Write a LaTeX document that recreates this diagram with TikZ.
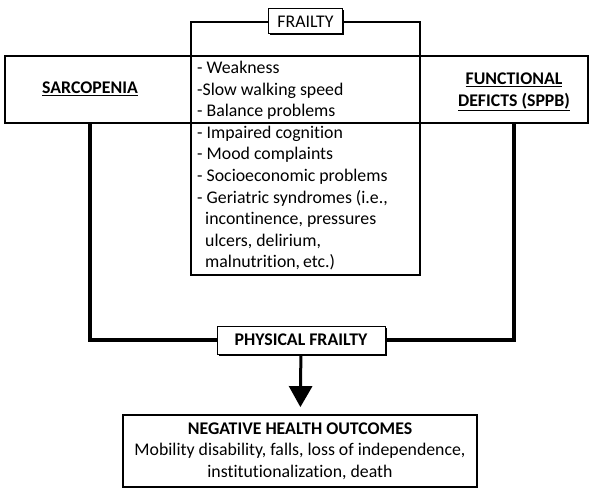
\documentclass[tikz,border=0pt]{standalone}
\usepackage{fontspec}
\setmainfont{Carlito}[Ligatures=NoCommon]
\usepackage{tikz}
\usetikzlibrary{positioning, arrows.meta, shadows}
\tikzset{
	every node/.append style={
		font=\fontsize{17.8}{21.6}\selectfont,
	},
	band/.append style={
		draw,
		line width=2.2pt,
		minimum height=67pt,
	},
	box/.append style={
		draw,
		line width=1.3pt,
	},
	tag/.append style={
		draw,
		fill=white,
		line width=1pt,
		drop shadow={shadow xshift=1.6pt, shadow yshift=-1.6pt, fill=black, opacity=1},
		inner sep=0pt,
	},
	heading/.append style={
		align=center,
		font=\fontsize{17.8}{21.6}\selectfont\bfseries,
	},
	items/.append style={
		align=left,
		inner sep=0pt,
	},
	link/.append style={
		line width=4pt,
	}
}

\begin{document}
\begin{tikzpicture}[x=1pt, y=-1pt]
\useasboundingbox (0,0) rectangle (592,492);

\node(band)[band, minimum width=583pt] at (296.5,89.5) {};

\node(sarco)[heading] at (90,89) {\underline{SARCOPENIA}};
\node(func)[heading] at (514,92) {\underline{FUNCTIONAL}\\\underline{DEFICTS (SPPB)}};

\node(frail)[box, minimum width=229pt, minimum height=253pt] at (305.5,148.5) {};
\node(frailtag)[tag, minimum width=74pt, minimum height=25pt] at (frail.north) {FRAILTY};

\node(items)[items, anchor=north west] at (197,61) {- Weakness\\-Slow walking speed\\- Balance problems\\- Impaired cognition\\- Mood complaints\\- Socioeconomic problems\\- Geriatric syndromes (i.e.,\\\hspace*{8pt}incontinence, pressures\\\hspace*{8pt}ulcers, delirium,\\\hspace*{8pt}malnutrition,\,etc.)};

\node(pf)[tag, minimum width=168pt, minimum height=28pt] at (301,340) {\bfseries PHYSICAL FRAILTY};
\draw[link] (sarco |- band.south) |- (pf.west);
\draw[link] (func |- band.south) |- (pf.east);

\node(outcome)[box, line width=1.8pt, minimum width=354pt, minimum height=72pt, align=center] at (300,451) {\textbf{NEGATIVE HEALTH OUTCOMES}\\Mobility disability, falls, loss of independence,\\institutionalization, death};
\draw[line width=3pt, -{Triangle[width=23pt, length=21pt]}, shorten >=7pt] (pf) -- (outcome);

\end{tikzpicture}
\end{document}
